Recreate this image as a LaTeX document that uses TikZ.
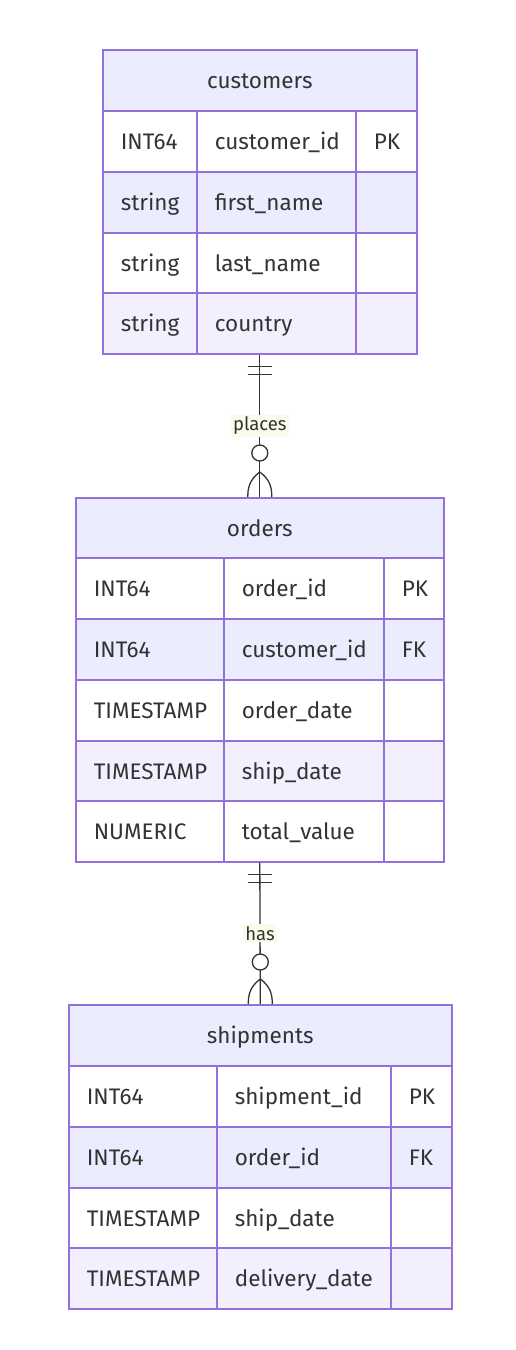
\documentclass[tikz,border=0pt]{standalone}
\usepackage{fontspec}
\setmainfont{Fira Sans}
\usetikzlibrary{calc}
\definecolor{erline}{HTML}{9370DB}
\definecolor{erbg}{HTML}{ECECFF}
\definecolor{erbgl}{HTML}{F2F0FF}
\definecolor{ertext}{HTML}{333333}
\definecolor{lblbg}{HTML}{FBFBEA}
\tikzset{
  cell/.style={draw=erline, line width=1.6pt, inner xsep=18pt, inner ysep=0pt,
    minimum height=61pt, anchor=north west, align=left, text=ertext,
    text height=17pt, text depth=1pt,
    font=\fontsize{22.5}{26}\selectfont},
  head/.style={cell, fill=erbg, align=center},
  rel/.style={draw=ertext, line width=1.3pt},
  rlabel/.style={fill=lblbg, text=ertext, inner sep=2pt, font=\fontsize{18.5}{22}\selectfont}
}
% \erow{prefix}{y}{fill}{x0}{x1}{x2}{t1}{t2}{x3}
\newcommand{\erow}[9]{%
  \node[cell, fill=#3, text width={(#5-#4)*1pt-36pt}] (#1a) at (#4,#2) {#7};
  \node[cell, fill=#3, text width={(#6-#5)*1pt-36pt}] (#1b) at (#5,#2) {#8};
  \node[cell, fill=#3, text width={(#9-#6)*1pt-36pt}] (#1c) at (#6,#2) {\ertextc};
}
\begin{document}
\begin{tikzpicture}[x=1pt,y=-1pt]
\useasboundingbox (0,0) rectangle (515,1350);
\fill[white] (0,0) rectangle (515,1350);

% customers
\node[head, text width=278pt] (customers) at (102,49) {customers};
\def\ertextc{PK}\erow{cA}{110}{white}{102}{196}{355}{INT64}{customer\_id}{416}
\def\ertextc{}\erow{cB}{171}{erbg}{102}{196}{355}{string}{first\_name}{416}
\def\ertextc{}\erow{cC}{232}{white}{102}{196}{355}{string}{last\_name}{416}
\def\ertextc{}\erow{cD}{292}{erbgl}{102}{196}{355}{string}{country}{416}

% orders
\node[head, text width=332pt] (orders) at (75,497) {orders};
\def\ertextc{PK}\erow{oA}{557}{white}{75}{223}{383}{INT64}{order\_id}{443}
\def\ertextc{FK}\erow{oB}{618}{erbg}{75}{223}{383}{INT64}{customer\_id}{443}
\def\ertextc{}\erow{oC}{679}{white}{75}{223}{383}{TIMESTAMP}{order\_date}{443}
\def\ertextc{}\erow{oD}{740}{erbgl}{75}{223}{383}{TIMESTAMP}{ship\_date}{443}
\def\ertextc{}\erow{oE}{800}{white}{75}{223}{383}{NUMERIC}{total\_value}{443}

% shipments
\node[head, text width=347pt] (shipments) at (68,1004) {shipments};
\def\ertextc{PK}\erow{sA}{1065}{white}{68}{216}{390}{INT64}{shipment\_id}{451}
\def\ertextc{FK}\erow{sB}{1126}{erbg}{68}{216}{390}{INT64}{order\_id}{451}
\def\ertextc{}\erow{sC}{1187}{white}{68}{216}{390}{TIMESTAMP}{ship\_date}{451}
\def\ertextc{}\erow{sD}{1247}{erbgl}{68}{216}{390}{TIMESTAMP}{delivery\_date}{451}

% relationship coordinates
\coordinate (cbot) at (customers.center |- cDa.south);
\coordinate (obot) at (orders.center |- oEa.south);

% customers -> orders
\draw[rel] (cbot) -- node[rlabel, pos=0.5] (lplaces) {places} (orders.north);
\draw[rel] ($(cbot)+(-12,12)$) -- ($(cbot)+(12,12)$);
\draw[rel] ($(cbot)+(-12,20)$) -- ($(cbot)+(12,20)$);
\draw[rel, fill=white] ($(orders.north)+(0,-44)$) circle (8);
\draw[rel] ($(orders.north)+(0,-25)$) .. controls ($(orders.north)+(-11,-17)$) and ($(orders.north)+(-12,-8)$) .. ($(orders.north)+(-12,0)$);
\draw[rel] ($(orders.north)+(0,-25)$) .. controls ($(orders.north)+(11,-17)$) and ($(orders.north)+(12,-8)$) .. ($(orders.north)+(12,0)$);

% orders -> shipments
\draw[rel] (obot) -- node[rlabel, pos=0.5] (lhas) {has} (shipments.north);
\draw[rel] ($(obot)+(-12,12)$) -- ($(obot)+(12,12)$);
\draw[rel] ($(obot)+(-12,20)$) -- ($(obot)+(12,20)$);
\draw[rel, fill=white] ($(shipments.north)+(0,-42)$) circle (8);
\draw[rel] ($(shipments.north)+(0,-25)$) .. controls ($(shipments.north)+(-11,-17)$) and ($(shipments.north)+(-12,-8)$) .. ($(shipments.north)+(-12,0)$);
\draw[rel] ($(shipments.north)+(0,-25)$) .. controls ($(shipments.north)+(11,-17)$) and ($(shipments.north)+(12,-8)$) .. ($(shipments.north)+(12,0)$);
\end{tikzpicture}
\end{document}
